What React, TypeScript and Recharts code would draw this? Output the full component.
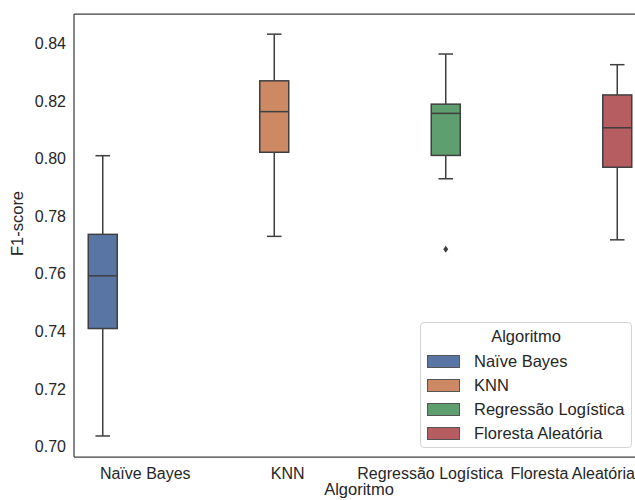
import React from "react";
import { ComposedChart, Bar, XAxis, YAxis, Legend, ReferenceLine } from "recharts";

const FONT = "'Liberation Sans', Arial, sans-serif";
const TEXT = "#262626";
const EDGE = "#3f3f3f";

const ALGORITMOS = [
  "Naïve Bayes",
  "KNN",
  "Regressão Logística",
  "Floresta Aleatória",
];
const KEYS = ["nb", "knn", "rl", "fa"];
const CORES = ["#5875a4", "#cc8963", "#5f9e6e", "#b55d60"];

const MINIMOS = [0.7037, 0.773, 0.793, 0.7718];
const Q1 = [0.741, 0.8022, 0.8011, 0.797];
const MEDIANAS = [0.7593, 0.8163, 0.8157, 0.8107];
const Q3 = [0.7737, 0.827, 0.8189, 0.8221];
const MAXIMOS = [0.801, 0.8432, 0.8363, 0.8326];
const OUTLIERS = [[], [], [0.7685], []];

const Y_TICKS = [0.7, 0.72, 0.74, 0.76, 0.78, 0.8, 0.82, 0.84];
const Y_MIN = 0.6964;
const Y_MAX = 0.8502;

// one row per category; only the matching hue gets a box (seaborn-style dodge)
const data = ALGORITMOS.map((name, i) => {
  const row: any = {
    name,
    min: MINIMOS[i],
    q1: Q1[i],
    med: MEDIANAS[i],
    q3: Q3[i],
    max: MAXIMOS[i],
    out: OUTLIERS[i],
  };
  KEYS.forEach((k, j) => {
    row[k] = j === i ? [Q1[i], Q3[i]] : null;
  });
  return row;
});

// Bar is a [q1, q3] range; the y scale is recovered from its pixel box
function BoxShape(props: any) {
  const { x, y, width, height, payload, fill } = props;
  if (!payload || height == null) return null;
  const { q1, q3, med, min, max, out } = payload;
  const k = height / (q3 - q1);
  const py = (v: number) => y + (q3 - v) * k;
  const cx = x + width / 2;
  const cap = width / 4;
  return (
    <g>
      <line x1={cx} x2={cx} y1={py(max)} y2={py(q3)} stroke={EDGE} strokeWidth={1.5} />
      <line x1={cx} x2={cx} y1={py(q1)} y2={py(min)} stroke={EDGE} strokeWidth={1.5} />
      <line x1={cx - cap} x2={cx + cap} y1={py(max)} y2={py(max)} stroke={EDGE} strokeWidth={1.5} />
      <line x1={cx - cap} x2={cx + cap} y1={py(min)} y2={py(min)} stroke={EDGE} strokeWidth={1.5} />
      <rect x={x} y={y} width={width} height={height} fill={fill} stroke={EDGE} strokeWidth={1.5} />
      <line x1={x} x2={x + width} y1={py(med)} y2={py(med)} stroke={EDGE} strokeWidth={1.5} />
      {out.map((v: number, i: number) => {
        const oy = py(v);
        return (
          <path
            key={i}
            d={`M${cx},${oy - 3.5} L${cx + 2.5},${oy} L${cx},${oy + 3.5} L${cx - 2.5},${oy} Z`}
            fill={EDGE}
          />
        );
      })}
    </g>
  );
}

function renderLegend(props: any) {
  const payload = [...(props.payload || [])].sort(
    (a: any, b: any) => ALGORITMOS.indexOf(a.value) - ALGORITMOS.indexOf(b.value)
  );
  return (
    <div
      style={{
        position: "relative",
        boxSizing: "border-box",
        width: 212,
        height: 126,
        border: "1px solid #d4d4d4",
        borderRadius: 4,
        background: "rgba(255,255,255,0.85)",
        fontFamily: FONT,
        fontSize: 16.5,
        color: TEXT,
      }}
    >
      <div
        style={{
          position: "absolute",
          top: 1,
          left: 0,
          right: 0,
          textAlign: "center",
          lineHeight: "24px",
        }}
      >
        Algoritmo
      </div>
      {payload.map((entry: any, i: number) => (
        <div
          key={i}
          style={{
            position: "absolute",
            left: 6,
            top: 26 + i * 24,
            height: 24,
            display: "flex",
            alignItems: "center",
            whiteSpace: "nowrap",
          }}
        >
          <span
            style={{
              display: "inline-block",
              boxSizing: "border-box",
              width: 33,
              height: 13,
              background: entry.color,
              border: "1px solid #555",
              marginRight: 14,
            }}
          />
          <span>{entry.value}</span>
        </div>
      ))}
    </div>
  );
}

function YLabel(props: any) {
  const vb = props.viewBox || {};
  const cx = 17;
  const cy = vb.y + vb.height / 2 - 12;
  return (
    <text
      x={cx}
      y={cy}
      transform={`rotate(-90, ${cx}, ${cy})`}
      textAnchor="middle"
      dominantBaseline="central"
      fontSize={16.5}
      fill={TEXT}
      fontFamily={FONT}
    >
      F1-score
    </text>
  );
}

export default function App() {
  const tick = { fontSize: 16, fill: TEXT, fontFamily: FONT };
  return (
    <div
      style={{
        position: "absolute",
        left: 0,
        top: 0,
        width: 635,
        height: 500,
        overflow: "hidden",
        background: "#fff",
      }}
    >
      <ComposedChart
        width={660}
        height={500}
        data={data}
        margin={{ top: 14, right: 16, left: 0, bottom: 0 }}
        barCategoryGap="10%"
        barGap={0}
        style={{ fontFamily: FONT }}
      >
        <XAxis
          dataKey="name"
          height={43}
          tick={tick}
          tickLine={false}
          tickMargin={5}
          axisLine={{ stroke: EDGE, strokeWidth: 1.25 }}
          interval={0}
          label={{
            value: "Algoritmo",
            position: "insideBottom",
            offset: 5,
            style: { fontSize: 16.5, fill: TEXT, fontFamily: FONT },
          }}
        />
        <YAxis
          width={74}
          domain={[Y_MIN, Y_MAX]}
          ticks={Y_TICKS}
          tickFormatter={(v: number) => v.toFixed(2)}
          tick={tick}
          tickLine={false}
          axisLine={{ stroke: EDGE, strokeWidth: 1.25 }}
          allowDataOverflow
          label={<YLabel />}
        />
        <ReferenceLine y={Y_MAX} stroke={EDGE} strokeWidth={1.25} />
        {KEYS.map((k, i) => (
          <Bar
            key={k}
            dataKey={k}
            name={ALGORITMOS[i]}
            fill={CORES[i]}
            shape={BoxShape}
            isAnimationActive={false}
          />
        ))}
        <Legend
          layout="horizontal"
          verticalAlign="middle"
          align="center"
          content={renderLegend}
          wrapperStyle={{ left: 420, top: 322, width: 212, height: 126 }}
        />
      </ComposedChart>
    </div>
  );
}
